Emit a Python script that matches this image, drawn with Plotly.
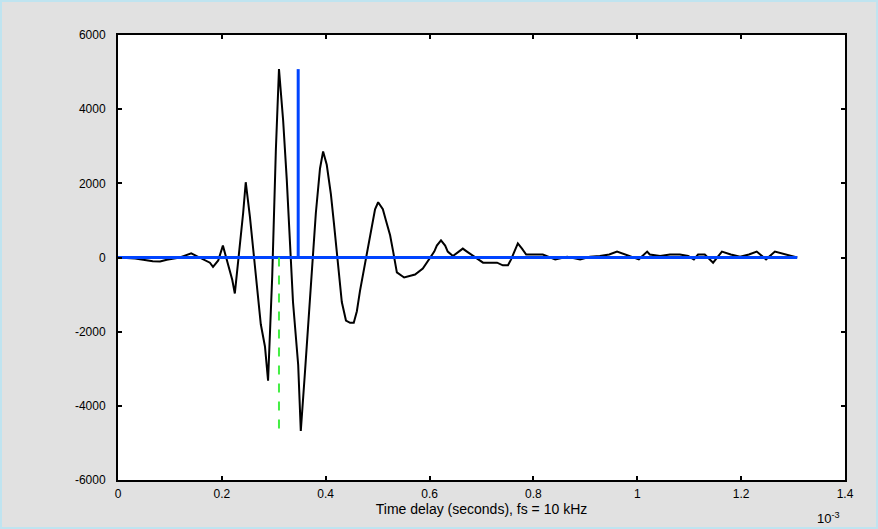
import plotly.graph_objects as go

# ---- data (x in units of 1e-3, amplitude) ----
lag = [0.000, 0.033, 0.067, 0.081, 0.094, 0.119, 0.141, 0.158, 0.177, 0.183,
       0.193, 0.202, 0.210, 0.220, 0.225, 0.231, 0.241, 0.246, 0.254, 0.262,
       0.268, 0.275, 0.283, 0.289, 0.297, 0.304, 0.310, 0.318, 0.325, 0.331,
       0.337, 0.347, 0.352, 0.360, 0.368, 0.374, 0.381, 0.389, 0.395, 0.402,
       0.410, 0.416, 0.424, 0.431, 0.439, 0.447, 0.454, 0.460, 0.466, 0.474,
       0.481, 0.487, 0.495, 0.501, 0.510, 0.516, 0.524, 0.530, 0.537, 0.551,
       0.572, 0.587, 0.595, 0.609, 0.614, 0.622, 0.630, 0.635, 0.645, 0.657,
       0.664, 0.672, 0.680, 0.691, 0.703, 0.716, 0.730, 0.741, 0.751, 0.757,
       0.763, 0.770, 0.778, 0.786, 0.799, 0.818, 0.842, 0.865, 0.890, 0.909,
       0.928, 0.946, 0.961, 0.976, 0.990, 1.003, 1.019, 1.024, 1.044, 1.063,
       1.082, 1.098, 1.109, 1.117, 1.130, 1.146, 1.163, 1.180, 1.198, 1.215,
       1.230, 1.248, 1.265, 1.286, 1.308]
amplitude = [0, -30, -100, -110, -60, 0, 110, 0, -140, -250,
             -80, 320, -60, -600, -970, -200, 1200, 2030, 1100, 0,
             -900, -1800, -2400, -3320, -500, 2900, 5080, 3700, 2100, 500,
             -1200, -2900, -4680, -3100, -1500, -100, 1200, 2400, 2860, 2500,
             1700, 900, -150, -1200, -1700, -1760, -1760, -1450, -900, -300,
             300, 750, 1300, 1490, 1300, 1000, 600, 150, -400, -540,
             -460, -300, -140, 160, 320, 460, 320, 160, 40, 160,
             240, 160, 80, -20, -140, -140, -140, -210, -210, -50,
             160, 380, 240, 80, 80, 80, -50, 20, -50, 20,
             40, 80, 160, 80, 20, -50, 160, 80, 40, 80,
             80, 40, -50, 80, 80, -140, 160, 80, 20, 80,
             160, -50, 160, 80, 0]

peak_lag = 0.310      # green dashed marker
peak_depth = -4680
est_lag = 0.347       # blue vertical marker
est_height = 5080

x_ticks = [0, 0.2, 0.4, 0.6, 0.8, 1.0, 1.2, 1.4]
x_tick_text = ["0", "0.2", "0.4", "0.6", "0.8", "1", "1.2", "1.4"]
y_ticks = [-6000, -4000, -2000, 0, 2000, 4000, 6000]
y_tick_text = ["-6000", "-4000", "-2000", "0", "2000", "4000", "6000"]

x_title = "Time delay (seconds), fs = 10 kHz"

fig = go.Figure()
fig.add_trace(go.Scatter(x=lag, y=amplitude, mode="lines",
                         line=dict(color="black", width=2), showlegend=False))
fig.add_trace(go.Scatter(x=[lag[0], lag[-1]], y=[0, 0], mode="lines",
                         line=dict(color="#0044ff", width=3), showlegend=False))
fig.add_trace(go.Scatter(x=[est_lag, est_lag], y=[0, est_height], mode="lines",
                         line=dict(color="#0044ff", width=3), showlegend=False))
fig.add_trace(go.Scatter(x=[peak_lag, peak_lag], y=[0, peak_depth], mode="lines",
                         line=dict(color="#44ee44", width=2, dash="dash"), showlegend=False))

font = dict(family="Liberation Sans, Arial", size=12, color="black")
fig.update_layout(
    width=878, height=529,
    margin=dict(l=118, r=33, t=35, b=49),
    paper_bgcolor="#e1e1e1", plot_bgcolor="white",
    font=font,
    xaxis=dict(range=[0, 1.4], tickvals=x_ticks, ticktext=x_tick_text,
               showgrid=False, zeroline=False, showline=True, linecolor="black",
               linewidth=2, mirror="ticks", ticks="inside", ticklen=4,
               tickwidth=2, tickcolor="black", ticklabelstandoff=2,
               title=dict(text=x_title, standoff=2, font=dict(size=14))),
    yaxis=dict(range=[-6000, 6000], tickvals=y_ticks, ticktext=y_tick_text,
               showgrid=False, zeroline=False, showline=True, linecolor="black",
               linewidth=2, mirror="ticks", ticks="inside", ticklen=4,
               tickwidth=2, tickcolor="black", ticklabelstandoff=8),
    annotations=[dict(text="10<sup>-3</sup>", xref="paper", yref="paper",
                      x=(842 - 118) / 727, y=-(28 / 445), xanchor="right", yanchor="top",
                      showarrow=False, font=dict(size=13))],
    shapes=[dict(type="rect", xref="paper", yref="paper",
                 x0=-118 / 727, x1=1 + 33 / 727, y0=-49 / 445, y1=1 + 35 / 445,
                 line=dict(color="#bfe4f0", width=4), layer="below")],
)

fig.write_html("out.html", config={"displayModeBar": False},
               post_script="document.body.style.margin='0';document.body.style.background='#e1e1e1';")
